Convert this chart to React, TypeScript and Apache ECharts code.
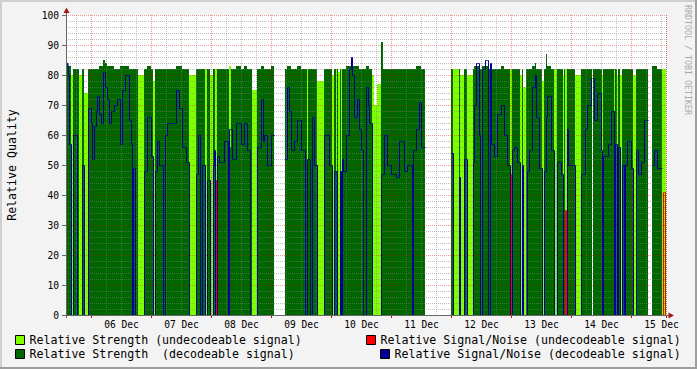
import React, { useEffect, useRef } from "react";
import * as echarts from "echarts";

const _ = null;

// time axis: one slot = 24 minutes, first slot starts 05 Dec 14:00
const SLOT_MINUTES = 24;
const START_UTC = Date.UTC(2011, 11, 5, 14, 0);
const MONTHS = ["Jan", "Feb", "Mar", "Apr", "May", "Jun", "Jul", "Aug", "Sep", "Oct", "Nov", "Dec"];

// run lengths (in 24-minute slots); the four arrays below hold one value per run
const runLengths = [
  2, 1, 2, 2, 4, 2, 3, 2, 4, 3,
  1, 2, 2, 1, 2, 2, 2, 2, 2, 2,
  2, 3, 3, 3, 2, 3, 4, 2, 1, 1,
  2, 3, 6, 3, 4, 2, 2, 2, 2, 4,
  2, 2, 9, 3, 3, 4, 3, 7, 2, 2,
  2, 3, 2, 3, 3, 1, 1, 1, 1, 2,
  5, 4, 1, 2, 1, 4, 5, 3, 3, 3,
  2, 5, 4, 2, 1, 3, 4, 3, 11, 2,
  2, 2, 3, 3, 4, 4, 2, 1, 2, 2,
  2, 3, 7, 5, 3, 2, 2, 1, 1, 2,
  1, 1, 1, 3, 3, 2, 1, 2, 3, 2,
  2, 2, 3, 2, 1, 3, 2, 3, 4, 2,
  1, 3, 4, 5, 3, 5, 3, 5, 1, 3,
  3, 2, 4, 26, 2, 6, 1, 4, 3, 6,
  1, 2, 3, 1, 2, 3, 3, 2, 1, 3,
  3, 4, 3, 3, 3, 2, 2, 3, 3, 2,
  1, 3, 1, 2, 3, 3, 1, 3, 3, 2,
  2, 1, 4, 3, 3, 4, 2, 1, 1, 2,
  1, 7, 6, 4, 2, 4, 1, 1, 1, 3,
  4, 1, 1, 5, 3, 3, 1, 2, 1, 2,
  2, 2, 1, 2, 4, 2, 3, 2, 3, 3,
  4, 4, 2, 3, 5, 1, 2, 1,
];

const strengthDecodeable = [
  84, 83, 83, 0, 82, 82, 0, 82, 0, 82,
  82, 82, 82, 82, 82, 83, 83, 85, 84, 83,
  83, 83, 82, 82, 83, 83, 83, 82, 82, 82,
  82, 82, 0, 82, 83, 82, 0, 82, 82, 82,
  82, 82, 82, 83, 83, 82, 82, 0, 82, 82,
  82, 82, 0, 82, 0, 82, 82, 0, 0, 82,
  82, 82, 82, 56, 82, 82, 83, 82, 83, 82,
  82, 0, 82, 83, 83, 82, 82, 83, _, 82,
  83, 83, 82, 82, 83, 82, 82, 48, 82, 82,
  82, 82, 0, 82, 82, 0, 82, 48, 82, 0,
  82, 0, 82, 82, 83, 83, 83, 83, 83, 83,
  82, 82, 82, 83, 83, 82, 0, 0, 0, 91,
  82, 82, 82, 82, 82, 82, 82, 82, 82, 82,
  83, 83, 82, _, 82, 0, 82, 0, 82, 0,
  82, 83, 83, 82, 82, 83, 83, 82, 83, 82,
  82, 82, 83, 82, 82, 0, 82, 82, 82, 0,
  82, 0, 82, 82, 82, 83, 84, 82, 82, 0,
  82, 87, 83, 82, 0, 82, 82, 0, 82, 0,
  82, 82, 0, 82, 82, 82, 82, _, 82, 82,
  82, 82, 0, 82, 82, 82, 0, 82, 0, 82,
  0, 82, 82, 82, 82, 82, 0, 82, 82, 82,
  82, _, 83, 83, 82, 0, 0, 0,
];

const strengthUndecodeable = [
  0, 0, 0, 80, 0, 0, 80, 0, 74, 0,
  0, 0, 0, 0, 0, 0, 0, 0, 0, 0,
  0, 0, 0, 0, 0, 0, 0, 0, 0, 0,
  0, 0, 80, 0, 0, 0, 78, 0, 0, 0,
  0, 0, 0, 0, 0, 0, 0, 80, 0, 0,
  0, 0, 82, 0, 80, 0, 0, 82, 82, 0,
  0, 0, 0, 83, 0, 0, 0, 0, 0, 0,
  0, 75, 0, 0, 0, 0, 0, 0, _, 0,
  0, 0, 0, 0, 0, 0, 0, 82, 0, 0,
  0, 0, 78, 0, 0, 80, 0, 82, 0, 81,
  0, 82, 0, 0, 0, 0, 0, 0, 0, 0,
  0, 0, 0, 0, 0, 0, 80, 70, 77, 0,
  0, 0, 0, 0, 0, 0, 0, 0, 0, 0,
  0, 0, 0, _, 0, 82, 0, 80, 0, 80,
  0, 0, 0, 0, 0, 0, 0, 0, 0, 0,
  0, 0, 0, 0, 0, 82, 0, 0, 0, 80,
  0, 76, 0, 0, 0, 0, 0, 0, 0, 78,
  0, 0, 0, 0, 82, 0, 0, 80, 0, 82,
  0, 0, 80, 0, 0, 0, 0, _, 0, 0,
  0, 0, 80, 0, 0, 0, 82, 0, 80, 0,
  80, 0, 0, 0, 0, 0, 80, 0, 0, 0,
  0, _, 0, 0, 0, 82, 82, 82,
];

const snDecodeable = [
  84, 80, 57, 0, 60, 0, 0, 50, 0, 69,
  64, 52, 63, 68, 73, 67, 64, 81, 76, 72,
  64, 68, 70, 72, 57, 75, 80, 65, 57, 0,
  49, 0, 0, 48, 66, 53, 0, 48, 58, 50,
  0, 60, 64, 75, 69, 56, 51, 0, 47, 60,
  0, 50, 0, 45, 0, 50, 55, 0, 0, 53,
  51, 58, 0, 62, 62, 52, 64, 57, 64, 55,
  0, 0, 56, 72, 58, 60, 50, 60, _, 52,
  76, 68, 55, 58, 65, 55, 0, 52, 52, 0,
  66, 50, 0, 60, 50, 0, 48, 48, 0, 0,
  48, 0, 52, 48, 60, 82, 86, 80, 66, 72,
  62, 55, 0, 76, 70, 64, 0, 0, 0, 47,
  47, 60, 50, 47, 46, 58, 48, 50, 0, 55,
  62, 71, 56, _, 54, 0, 46, 0, 52, 0,
  51, 70, 84, 60, 0, 82, 85, 0, 84, 57,
  53, 67, 70, 60, 50, 0, 55, 56, 51, 0,
  50, 0, 0, 48, 55, 76, 80, 66, 49, 0,
  48, 66, 73, 55, 0, 51, 47, 0, 0, 0,
  62, 50, 0, 47, 62, 70, 79, _, 79, 65,
  74, 55, 0, 53, 57, 68, 0, 57, 0, 56,
  0, 50, 0, 50, 58, 49, 0, 55, 47, 51,
  65, _, 50, 55, 49, _, _, _,
];

// undecodeable S/N, as its own [slots, value] runs
const snUndecodeableRuns: [number, number | null][] = [
  [149, _], [1, 0], [1, 45], [1, 0],
  [291, _], [1, 0], [1, 47], [2, 0],
  [51, _], [1, 0], [1, 35], [2, 0],
  [94, _], [1, 0], [2, 41], [1, 0],
];

const NAME_LIGHT = "Relative Strength (undecodeable signal)";
const NAME_DARK = "Relative Strength\u00a0 (decodeable signal)";
const NAME_RED = "Relative Signal/Noise (undecodeable signal)";
const NAME_BLUE = "Relative Signal/Noise (decodeable signal)";

const MONO = "'DejaVu Sans Mono', monospace";

function expand(values: (number | null)[]): (number | null)[] {
  const out: (number | null)[] = [];
  runLengths.forEach((len, i) => {
    for (let k = 0; k < len; k++) out.push(values[i]);
  });
  return out;
}

function expandRuns(runs: [number, number | null][]): (number | null)[] {
  const out: (number | null)[] = [];
  runs.forEach(([len, v]) => {
    for (let k = 0; k < len; k++) out.push(v);
  });
  return out;
}

const pad = (n: number) => (n < 10 ? "0" + n : "" + n);

function buildOption() {
  const slotCount = runLengths.reduce((a, b) => a + b, 0);
  const categories = Array.from({ length: slotCount }, (__, i) => {
    const d = new Date(START_UTC + i * SLOT_MINUTES * 60000);
    return `${pad(d.getUTCDate())} ${MONTHS[d.getUTCMonth()]} ${pad(d.getUTCHours())}:${pad(d.getUTCMinutes())}`;
  });
  const isMidnight = (v: string) => v.endsWith("00:00");
  const isSixHour = (v: string) => {
    const h = parseInt(v.slice(7, 9), 10);
    return v.endsWith(":00") && h % 6 === 0 && !isMidnight(v);
  };
  const isNoon = (v: string) => v.endsWith("12:00");

  const legendBase = {
    orient: "horizontal",
    padding: 0,
    icon: "rect",
    itemWidth: 9,
    itemHeight: 9,
    itemGap: 0,
    selectedMode: false,
    itemStyle: { borderColor: "#000", borderWidth: 1 },
    textStyle: { fontFamily: MONO, fontSize: 11.6, color: "#000" },
  };

  const hiddenCategory = {
    type: "category",
    data: categories,
    boundaryGap: true,
    gridIndex: 1,
    show: false,
  };

  return {
    animation: false,
    backgroundColor: "#F3F3F3",
    textStyle: { fontFamily: MONO },
    grid: [
      { left: 66, top: 15, width: 600, height: 300, show: true, backgroundColor: "#FFFFFF", borderWidth: 0 },
      // same plot, offset half a pixel so the 1px S/N lines land on whole pixels
      { left: 66.5, top: 15.5, width: 600, height: 300, show: false },
    ],
    legend: [
      { ...legendBase, data: [NAME_LIGHT], left: 15, top: 334 },
      { ...legendBase, data: [NAME_DARK], left: 15, top: 348 },
      { ...legendBase, data: [NAME_RED], left: 366, top: 334 },
      { ...legendBase, data: [NAME_BLUE], left: 380, top: 348 },
    ],
    xAxis: [
      {
        type: "category",
        data: categories,
        boundaryGap: true,
        gridIndex: 0,
        z: 3,
        axisLine: { show: false },
        axisTick: { show: false },
        axisLabel: {
          interval: (i: number, v: string) => isNoon(v),
          formatter: (v: string) => v.slice(0, 6),
          fontFamily: MONO,
          fontSize: 9.6,
          color: "#000",
          margin: 4,
        },
        splitLine: {
          show: true,
          interval: (i: number, v: string) => isSixHour(v),
          lineStyle: { color: "rgba(128,128,128,0.5)", width: 1, type: [1, 1] },
        },
      },
      {
        type: "category",
        data: categories,
        boundaryGap: true,
        gridIndex: 0,
        position: "bottom",
        z: 4,
        axisLine: { show: false },
        axisLabel: { show: false },
        axisTick: {
          show: true,
          interval: (i: number, v: string) => isMidnight(v),
          length: 3,
          lineStyle: { color: "#D00000" },
        },
        splitLine: {
          show: true,
          interval: (i: number, v: string) => isMidnight(v),
          lineStyle: { color: "rgba(220,0,0,0.4)", width: 1, type: [1, 1] },
        },
      },
      hiddenCategory,
    ],
    yAxis: [
      {
        type: "value",
        min: 0,
        max: 100,
        interval: 10,
        gridIndex: 0,
        z: 3,
        axisLine: { show: false },
        axisTick: { show: true, length: 4, lineStyle: { color: "#666" } },
        axisLabel: { fontFamily: MONO, fontSize: 9.6, color: "#000", margin: 7 },
        splitLine: { show: true, lineStyle: { color: "rgba(220,0,0,0.4)", width: 1, type: [1, 1] } },
        minorTick: { show: false, splitNumber: 5 },
        minorSplitLine: { show: true, lineStyle: { color: "rgba(128,128,128,0.5)", width: 1, type: [1, 1] } },
      },
      { type: "value", min: 0, max: 100, interval: 10, gridIndex: 1, show: false, splitLine: { show: false } },
    ],
    series: [
      {
        name: NAME_LIGHT,
        type: "bar",
        data: expand(strengthUndecodeable),
        barCategoryGap: "0%",
        barGap: "-100%",
        itemStyle: { color: "#80FF00" },
        z: 1,
        silent: true,
      },
      {
        name: NAME_DARK,
        type: "bar",
        data: expand(strengthDecodeable),
        barCategoryGap: "0%",
        barGap: "-100%",
        itemStyle: { color: "#006600" },
        z: 2,
        silent: true,
      },
      {
        name: NAME_RED,
        type: "line",
        xAxisIndex: 2,
        yAxisIndex: 1,
        data: expandRuns(snUndecodeableRuns),
        step: "middle",
        symbol: "none",
        showSymbol: false,
        lineStyle: { color: "#FF0000", width: 1 },
        itemStyle: { color: "#FF0000" },
        z: 5,
        silent: true,
      },
      {
        name: NAME_BLUE,
        type: "line",
        xAxisIndex: 2,
        yAxisIndex: 1,
        data: expand(snDecodeable),
        step: "middle",
        symbol: "none",
        showSymbol: false,
        lineStyle: { color: "#000099", width: 1 },
        itemStyle: { color: "#000099" },
        z: 6,
        silent: true,
      },
    ],
    graphic: [
      { type: "rect", silent: true, shape: { x: 0, y: 0, width: 697, height: 2 }, style: { fill: "#CFCFCF" }, z: 20 },
      { type: "rect", silent: true, shape: { x: 0, y: 0, width: 2, height: 369 }, style: { fill: "#CFCFCF" }, z: 20 },
      { type: "rect", silent: true, shape: { x: 0, y: 367, width: 697, height: 2 }, style: { fill: "#9E9E9E" }, z: 20 },
      { type: "rect", silent: true, shape: { x: 695, y: 0, width: 2, height: 369 }, style: { fill: "#9E9E9E" }, z: 20 },
      { type: "line", silent: true, shape: { x1: 66.5, y1: 318, x2: 66.5, y2: 11 }, style: { stroke: "#666", lineWidth: 1 }, z: 20 },
      { type: "line", silent: true, shape: { x1: 62, y1: 315.5, x2: 670, y2: 315.5 }, style: { stroke: "#666", lineWidth: 1 }, z: 20 },
      { type: "polygon", silent: true, shape: { points: [[66.5, 7.5], [63.5, 13], [69.5, 13]] }, style: { fill: "#A01818" }, z: 21 },
      { type: "polygon", silent: true, shape: { points: [[674, 315.5], [668.5, 312.5], [668.5, 318.5]] }, style: { fill: "#A01818" }, z: 21 },
      {
        type: "text",
        silent: true,
        x: 12,
        y: 165,
        rotation: Math.PI / 2,
        style: {
          text: "Relative Quality",
          font: `11.6px ${MONO}`,
          fill: "#000",
          textAlign: "center",
          textVerticalAlign: "middle",
          align: "center",
          verticalAlign: "middle",
        },
        z: 20,
      },
      {
        type: "text",
        silent: true,
        x: 688,
        y: 60,
        rotation: -Math.PI / 2,
        style: {
          text: "RRDTOOL / TOBI OETIKER",
          font: `8.3px ${MONO}`,
          fill: "#AAAAAA",
          textAlign: "center",
          textVerticalAlign: "middle",
          align: "center",
          verticalAlign: "middle",
        },
        z: 20,
      },
    ],
  };
}

export default function App() {
  const ref = useRef<HTMLDivElement>(null);
  useEffect(() => {
    const chart = echarts.init(ref.current as HTMLDivElement, null, { renderer: "svg" });
    chart.setOption(buildOption() as any);
    return () => {
      chart.dispose();
    };
  }, []);
  return <div ref={ref} style={{ position: "absolute", left: 0, top: 0, width: 697, height: 369 }} />;
}
